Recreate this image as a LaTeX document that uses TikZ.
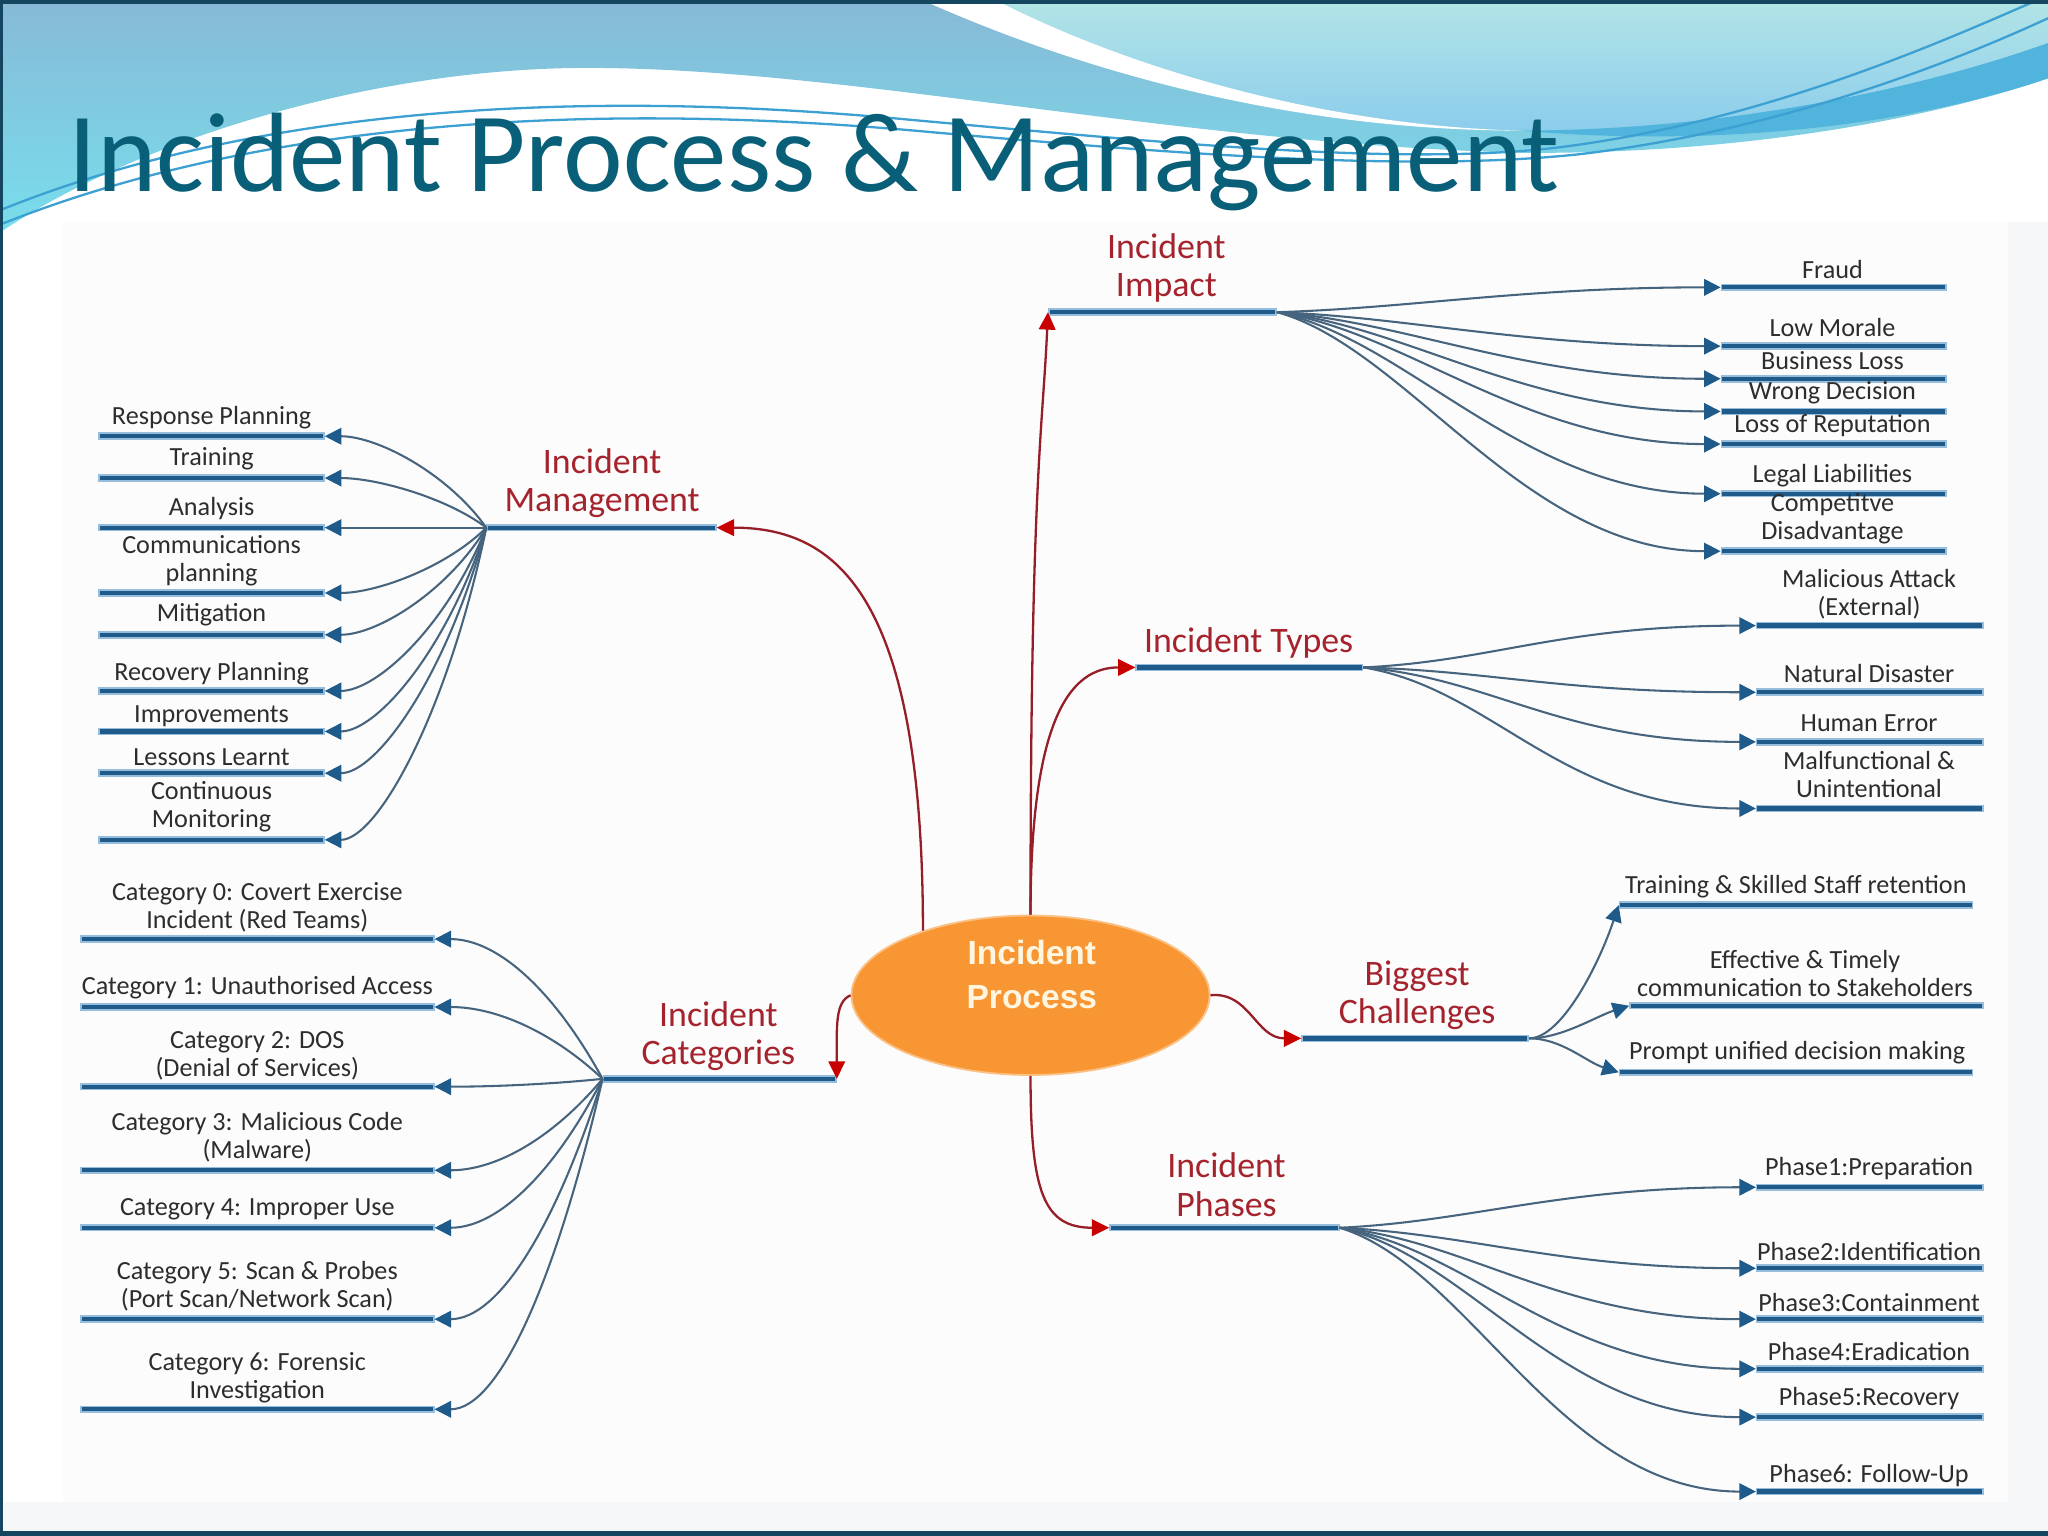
\documentclass[tikz,border=0pt]{standalone}
\usepackage{fontspec}
\setmainfont{Carlito}
\newfontfamily\procfont{Liberation Sans}
\usetikzlibrary{arrows.meta,shapes.geometric}
\definecolor{barblue}{RGB}{30,90,138}
\definecolor{barline}{RGB}{150,190,220}
\definecolor{connblue}{RGB}{70,100,125}
\definecolor{txtgray}{RGB}{45,45,45}
\definecolor{labelred}{RGB}{165,35,45}
\definecolor{connred}{RGB}{150,30,40}
\definecolor{arrred}{RGB}{200,0,0}
\definecolor{procorange}{RGB}{247,150,50}
\definecolor{proctextcol}{RGB}{255,246,225}
\definecolor{titleblue}{RGB}{10,95,120}
\definecolor{hdrtop}{RGB}{135,185,214}
\definecolor{hdrbot}{RGB}{120,222,236}
\definecolor{paletop}{RGB}{178,228,230}
\definecolor{palebot}{RGB}{140,205,236}
\definecolor{bandblue}{RGB}{80,180,220}
\definecolor{hdrlinecol}{RGB}{60,160,210}
\definecolor{framecol}{RGB}{20,70,95}
\definecolor{diagbg}{RGB}{252,252,252}
\definecolor{slidebg}{RGB}{246,247,248}
\tikzset{
  lbar/.style={rectangle, inner sep=0pt, minimum height=0.045cm, fill=barblue, draw=barline, line width=0.35pt},
  leaflabel/.style={font={\fontsize{5.7pt}{6.1pt}\selectfont}, text=txtgray, align=center, inner sep=0pt},
  redlabel/.style={font={\fontsize{7.8pt}{8.3pt}\selectfont}, text=labelred, align=center, inner sep=0pt},
  bconn/.style={draw=connblue, line width=0.45pt, -{Triangle[length=3.6pt,width=3.6pt,color=barblue,fill=barblue]}},
  rconn/.style={draw=connred, line width=0.5pt, -{Triangle[length=3.8pt,width=3.6pt,color=arrred,fill=arrred]}},
  hdrline/.style={draw=hdrlinecol, line width=0.5pt}
}
\begin{document}
\begin{tikzpicture}[x=0.01cm,y=-0.01cm]
\useasboundingbox (0,0) rectangle (1568,1176);
\fill[white] (0,0) rectangle (1568,1176);
\fill[slidebg] (0,1150) rectangle (1568,1176);
\fill[slidebg] (1537,170) rectangle (1568,1176);
\fill[diagbg] (48,170) rectangle (1537,1150);
% header
\shade[top color=hdrtop,bottom color=hdrbot] (0,0) -- (1568,0) -- (1568,60) .. controls (1450,100) and (1300,118) .. (1165,117) .. controls (900,110) and (650,52) .. (450,52) .. controls (280,52) and (100,110) .. (0,178) -- cycle;
\shade[top color=paletop,bottom color=palebot] (762,0) -- (1568,0) -- (1568,33) .. controls (1450,75) and (1300,100) .. (1165,100) .. controls (1030,97) and (880,60) .. (762,0) -- cycle;
\fill[white] (706,0) -- (762,0) .. controls (880,60) and (1030,97) .. (1165,100) .. controls (1000,100) and (840,60) .. (706,0) -- cycle;
\fill[bandblue] (1165,100) .. controls (1300,100) and (1450,75) .. (1568,33) -- (1568,60) .. controls (1450,100) and (1300,112) .. (1165,100) -- cycle;
\draw[hdrline] (0,161) .. controls (200,80) and (450,68) .. (700,92) .. controls (900,110) and (1080,128) .. (1200,112) .. controls (1350,92) and (1480,35) .. (1560,0);
\draw[hdrline] (0,172) .. controls (200,92) and (450,78) .. (700,100) .. controls (900,118) and (1080,132) .. (1210,118) .. controls (1360,100) and (1490,50) .. (1568,14);
\draw[framecol, line width=1.2pt] (0,1174) -- (0,1) -- (1568,1);
\draw[framecol, line width=1.2pt] (0,1174) -- (1568,1174);
% title
\node[anchor=base west, inner sep=0pt, text=titleblue, font={\fontsize{24.6pt}{28pt}\selectfont}] (title) at (52,147) {Incident Process \& Management};

% central process
\node[ellipse, fill=procorange, draw=procorange!60!white, line width=0.4pt, minimum width=2.74cm, minimum height=1.22cm, inner sep=0pt] (proc) at (789,762) {};
\node[inner sep=0pt, align=center, text=proctextcol, font={\procfont\bfseries\fontsize{7.3pt}{9.7pt}\selectfont}] (proctext) at (790,746) {Incident\\Process};

% main bars
\node[lbar, minimum width=1.74cm] (impact) at (890,239) {};
\node[lbar, minimum width=1.75cm] (mgmt) at (460.5,404) {};
\node[lbar, minimum width=1.73cm] (types) at (956.5,511) {};
\node[lbar, minimum width=1.78cm] (cat) at (551,826) {};
\node[lbar, minimum width=1.73cm] (chal) at (1083.5,795) {};
\node[lbar, minimum width=1.75cm] (phases) at (937.5,940) {};
% red labels
\node[redlabel] (impactlbl) at (893,205) {Incident\\Impact};
\node[redlabel] (mgmtlbl) at (461,370) {Incident\\Management};
\node[redlabel] (typeslbl) at (956,492) {Incident Types};
\node[redlabel] (catlbl) at (550,793) {Incident\\Categories};
\node[redlabel] (challbl) at (1085,762) {Biggest\\Challenges};
\node[redlabel] (phaseslbl) at (939,907) {Incident\\Phases};
% red connectors
\draw[rconn] (proc.north) .. controls +(0,-330) and +(-4,90) .. (impact.west);
\draw[rconn] (proc.north) .. controls +(0,-150) and +(-50,0) .. (types.west);
\draw[rconn] (proc.149) .. controls +(0,-260) and +(90,0) .. (mgmt.east);
\draw[rconn] (proc.west) .. controls +(-12,5) and +(0,-40) .. (cat.east);
\draw[rconn] (proc.east) .. controls +(30,-3) and +(-35,0) .. (chal.west);
\draw[rconn] (proc.south) .. controls +(0,90) and +(-50,0) .. (phases.west);

% management leaves
\foreach \nm/\by/\ty/\tx in {1/334/320/{Response Planning}, 2/366/351/{Training}, 3/404/389/{Analysis}, 4/454/429/{Communications\\planning}, 5/486/471/{Mitigation}, 6/529/516/{Recovery Planning}, 7/560/548/{Improvements}, 8/592/580/{Lessons Learnt}, 9/643/618/{Continuous\\Monitoring}} {
  \node[lbar, minimum width=1.72cm] (m\nm) at (162,\by) {};
  \node[leaflabel] (mt\nm) at (162,\ty) {\tx};
  \draw[bconn] (mgmt.west) .. controls +(-30,{(\by-404)*0.6}) and +(40,0) .. (m\nm.east);
}
% category leaves
\foreach \nm/\by/\ty/\tx in {0/719/695/{Category 0: Covert Exercise\\Incident (Red Teams)}, 1/771/756/{Category 1: Unauthorised Access}, 2/832/808/{Category 2: DOS\\(Denial of Services)}, 3/896/871/{Category 3: Malicious Code\\(Malware)}, 4/940/926/{Category 4: Improper Use}, 5/1010/985/{Category 5: Scan \& Probes\\(Port Scan/Network Scan)}, 6/1079/1055/{Category 6: Forensic\\Investigation}} {
  \node[lbar, minimum width=2.70cm] (c\nm) at (197,\by) {};
  \node[leaflabel] (ct\nm) at (197,\ty) {\tx};
  \draw[bconn] (cat.west) .. controls +(-35,{(\by-826)*0.6}) and +(50,0) .. (c\nm.east);
}
% impact leaves
\foreach \nm/\by/\ty/\tx in {1/220/206/{Fraud}, 2/265/251/{Low Morale}, 3/290/276/{Business Loss}, 4/315/301/{Wrong Decision}, 5/340/326/{Loss of Reputation}, 6/378/364/{Legal Liabilities}, 7/422/397/{Competitve\\Disadvantage}} {
  \node[lbar, minimum width=1.72cm] (i\nm) at (1404,\by) {};
  \node[leaflabel] (it\nm) at (1403,\ty) {\tx};
  \draw[bconn] (impact.east) .. controls +(100,{(\by-239)*0.15}) and +(-150,0) .. (i\nm.west);
}
% type leaves
\foreach \nm/\by/\ty/\tx in {1/479/455/{Malicious Attack\\(External)}, 2/530/516/{Natural Disaster}, 3/568/554/{Human Error}, 4/619/593/{Malfunctional \&\\Unintentional}} {
  \node[lbar, minimum width=1.73cm] (t\nm) at (1431.5,\by) {};
  \node[leaflabel] (tt\nm) at (1431,\ty) {\tx};
  \draw[bconn] (types.east) .. controls +(100,{(\by-511)*0.15}) and +(-150,0) .. (t\nm.west);
}
% phase leaves
\foreach \nm/\by/\ty/\tx in {1/909/895/{Phase1:Preparation}, 2/971/958/{Phase2:Identification}, 3/1010/997/{Phase3:Containment}, 4/1048/1035/{Phase4:Eradication}, 5/1085/1071/{Phase5:Recovery}, 6/1142/1130/{Phase6: Follow-Up}} {
  \node[lbar, minimum width=1.73cm] (p\nm) at (1431.5,\by) {};
  \node[leaflabel] (pt\nm) at (1431,\ty) {\tx};
  \draw[bconn] (phases.east) .. controls +(100,{(\by-940)*0.15}) and +(-150,0) .. (p\nm.west);
}
% challenge leaves
\node[lbar, minimum width=2.70cm] (ch1) at (1375,693) {};
\node[lbar, minimum width=2.70cm] (ch2) at (1383,770) {};
\node[lbar, minimum width=2.70cm] (ch3) at (1375,821) {};
\node[leaflabel] (cht1) at (1375,679) {Training \& Skilled Staff retention};
\node[leaflabel] (cht2) at (1382,745) {Effective \& Timely\\communication to Stakeholders};
\node[leaflabel] (cht3) at (1376,806) {Prompt unified decision making};
\draw[bconn] (chal.east) .. controls +(25,0) and +(-15,45) .. (ch1.west);
\draw[bconn] (chal.east) .. controls +(25,0) and +(-25,8) .. (ch2.west);
\draw[bconn] (chal.east) .. controls +(25,0) and +(-25,-8) .. (ch3.west);
\end{tikzpicture}
\end{document}
